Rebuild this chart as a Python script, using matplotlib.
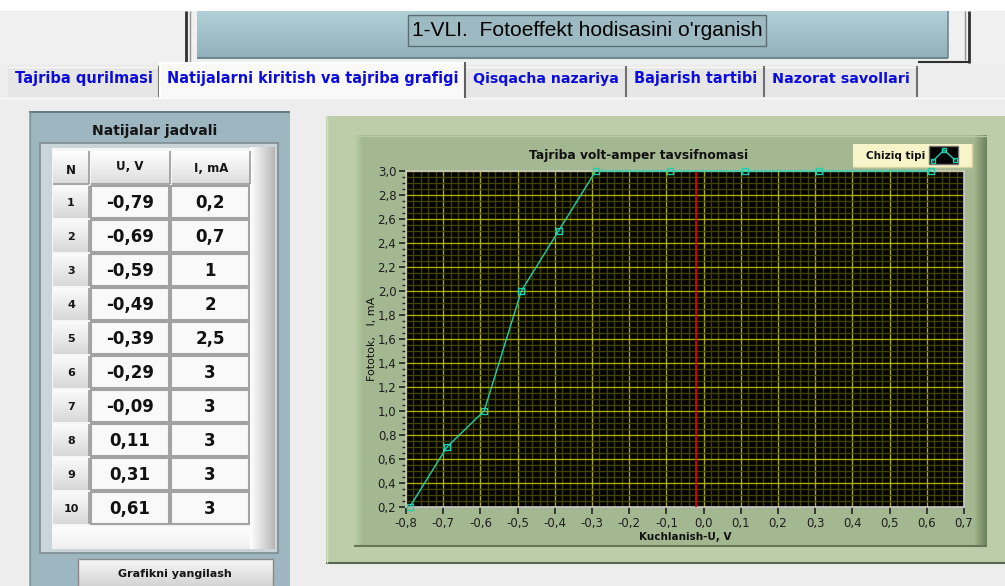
import matplotlib
matplotlib.use('Agg')
import matplotlib.pyplot as plt
import matplotlib.colors as mc
from matplotlib.patches import Rectangle
from matplotlib.ticker import MultipleLocator, FuncFormatter, FixedLocator
import numpy as np

# ---------------- data ----------------
U_values = [-0.79, -0.69, -0.59, -0.49, -0.39, -0.29, -0.09, 0.11, 0.31, 0.61]
I_values = [0.2, 0.7, 1, 2, 2.5, 3, 3, 3, 3, 3]
row_numbers = list(range(1, 11))
U_labels = ['-0,79', '-0,69', '-0,59', '-0,49', '-0,39', '-0,29', '-0,09', '0,11', '0,31', '0,61']
I_labels = ['0,2', '0,7', '1', '2', '2,5', '3', '3', '3', '3', '3']
x_ticks = [-0.8, -0.7, -0.6, -0.5, -0.4, -0.3, -0.2, -0.1, 0.0, 0.1, 0.2, 0.3, 0.4, 0.5, 0.6, 0.7]
y_ticks = [0.2, 0.4, 0.6, 0.8, 1.0, 1.2, 1.4, 1.6, 1.8, 2.0, 2.2, 2.4, 2.6, 2.8, 3.0]
cursor_u = -0.02
tab_names = ['Tajriba qurilmasi', 'Natijalarni kiritish va tajriba grafigi',
             'Qisqacha nazariya', 'Bajarish tartibi', 'Nazorat savollari']
page_title = "1-VLI.  Fotoeffekt hodisasini o'rganish"
chart_title = 'Tajriba volt-amper tavsifnomasi'
x_label = 'Kuchlanish-U, V'
y_label = 'Fototok,   I, mA'
table_title = 'Natijalar jadvali'
col_headers = ['N', 'U, V', 'I, mA']
legend_text = 'Chiziq tipi'
button_text = 'Grafikni yangilash'

W, H = 1005, 586
fig = plt.figure(figsize=(W / 100, H / 100), dpi=100)
bg = fig.add_axes([0, 0, 1, 1])
bg.axis('off')
renderer = fig.canvas.get_renderer()


def rect(x0, y0, x1, y1, fc, ec='none', lw=0, z=1):
    bg.add_patch(Rectangle((x0, y0), x1 - x0, y1 - y0, facecolor=fc,
                           edgecolor=ec, linewidth=lw, zorder=z))


def grad(x0, y0, x1, y1, c0, c1, horizontal=False, z=1):
    a = np.array(mc.to_rgb(c0))
    b = np.array(mc.to_rgb(c1))
    t = np.linspace(0, 1, 64)
    cols = a * (1 - t)[:, None] + b * t[:, None]
    img = cols[None, :, :] if horizontal else cols[:, None, :]
    bg.imshow(img, extent=(x0, x1, y1, y0), aspect='auto', zorder=z,
              interpolation='bilinear')


def line(xs, ys, c, lw=1, z=3):
    bg.plot(xs, ys, color=c, lw=lw, zorder=z, solid_capstyle='butt')


def fit_text(x, y, s, width, fs=10, **kw):
    t = bg.text(x, y, s, fontsize=fs, **kw)
    w = t.get_window_extent(renderer).width
    t.set_fontsize(fs * width / w)
    return t


# ---------------- background ----------------
rect(0, 0, W, H, '#ededed', z=0)
rect(0, 0, W, 11, '#ffffff', z=0.5)
rect(0, 11, W, 64, '#f0f0f0', z=0.5)

# top frame lines
line([186, 186], [11, 63], '#303030', lw=2)
line([190, 190], [11, 63], '#909090', lw=1)
line([969, 969], [11, 63], '#303030', lw=2)
line([965, 965], [11, 60], '#909090', lw=1)
line([918, 970], [62, 62], '#303030', lw=1.5)

# title panel
grad(197, 11, 948, 57, '#b2d0d8', '#93b1ba', z=1)
line([197, 948], [57.5, 57.5], '#6c8990', lw=1.5)
line([948, 948], [11, 58], '#6c8990', lw=1.2)
rect(408, 15, 766, 46, '#9db9c1', ec='#5a6e73', lw=1, z=2)
fit_text(587, 31, page_title, 350, fs=13, ha='center', va='center',
         family='Liberation Sans', color='black', zorder=3)

# tabs
tab_x = [(8, 159), (160, 465), (466, 626), (627, 764), (765, 917)]
for i, ((x0, x1), name) in enumerate(zip(tab_x, tab_names)):
    if i == 1:
        rect(x0, 62, x1, 99, '#f9f9f9', z=2)
        line([x0, x0], [62, 98], '#ffffff', lw=1.5, z=3)
        line([x0, x1], [62.5, 62.5], '#ffffff', lw=1.5, z=3)
        line([x1, x1], [62, 98], '#606060', lw=1.5, z=3)
    else:
        rect(x0, 66, x1, 97, '#e6e6e6', z=2)
        line([x0, x1], [66.5, 66.5], '#fafafa', lw=1, z=3)
        line([x1, x1], [66, 97], '#707070', lw=1.5, z=3)
    fit_text((x0 + x1) / 2, 79, name, (x1 - x0) - 14, fs=10, ha='center',
             va='center', weight='bold', color='#0b0be0', zorder=4)
line([0, W], [97.5, 97.5], '#fbfbfb', lw=1, z=1.5)

# ---------------- left panel (table) ----------------
rect(29, 111, 290, H, '#9db6c0', z=1)
line([29, 290], [111.5, 111.5], '#5c6e76', lw=1.2)
line([29.5, 29.5], [111, H], '#7f969f', lw=1)
fit_text(155, 131, table_title, 125, fs=10, ha='center', va='center',
         weight='bold', color='#151515', zorder=4)
rect(40, 143, 278, 553, '#c9d5d9', ec='#7d8c92', lw=1.2, z=2)
rect(52, 148, 275, 549, '#f6f6f6', z=2)
grad(250, 147, 275, 549, '#ffffff', '#b8b8b8', horizontal=True, z=2.2)
grad(52, 527, 250, 549, '#fdfdfd', '#f0f0f0', z=2.2)

# header cells
grad(53, 151, 89, 184, '#ffffff', '#dcdcdc', z=3)
grad(91, 151, 170, 184, '#ffffff', '#dcdcdc', z=3)
grad(172, 151, 250, 184, '#ffffff', '#dcdcdc', z=3)
for (x0, x1) in [(53, 89), (91, 170), (172, 250)]:
    line([x1, x1], [151, 184], '#9a9a9a', lw=1.2, z=3.5)
    line([x0, x1], [184, 184], '#9a9a9a', lw=1.2, z=3.5)
bg.text(71, 170, col_headers[0], fontsize=8.5, weight='bold', ha='center',
        va='center', color='#151515', zorder=4)
bg.text(130, 166, col_headers[1], fontsize=8.5, weight='bold', ha='center',
        va='center', color='#151515', zorder=4)
bg.text(211, 168, col_headers[2], fontsize=8.5, weight='bold', ha='center',
        va='center', color='#151515', zorder=4)

for i, (n, ul, il) in enumerate(zip(row_numbers, U_labels, I_labels)):
    y0 = 186 + 34 * i
    y1 = y0 + 32
    grad(53, y0, 89, y1, '#fbfbfb', '#d8d8d8', z=3)
    line([89, 89], [y0, y1], '#9a9a9a', lw=1.2, z=3.5)
    rect(91, y0, 169, y1, '#f9f9f9', ec='#a2a2a2', lw=1.5, z=3)
    rect(171, y0, 249, y1, '#f9f9f9', ec='#a2a2a2', lw=1.5, z=3)
    bg.text(71, (y0 + y1) / 2 + 1, str(n), fontsize=8, weight='bold',
            ha='center', va='center', color='#151515', zorder=4)
    bg.text(130, (y0 + y1) / 2 + 1, ul, fontsize=12, weight='bold',
            ha='center', va='center', color='#111111', zorder=4)
    bg.text(210, (y0 + y1) / 2 + 1, il, fontsize=12, weight='bold',
            ha='center', va='center', color='#111111', zorder=4)

# button
grad(78, 559, 273, H, '#f7f7f7', '#d4d4d4', z=3)
line([78, 273, 273], [559, 559, H], '#8a8a8a', lw=1, z=3.5)
line([78, 78], [559, H], '#8a8a8a', lw=1, z=3.5)
bg.text(175, 574, button_text, fontsize=8, weight='bold', ha='center',
        va='center', color='#151515', zorder=4)

# ---------------- chart panel ----------------
rect(326, 116, W, 563, '#bdcda9', z=1)
line([326, W], [563, 563], '#56664c', lw=1.5)
line([326.5, 326.5], [116, 563], '#d3dec5', lw=1)
rect(354, 135, 987, 546, '#a3b890', z=1.5)
grad(354, 135, 363, 546, '#bdd0aa', '#a3b890', horizontal=True, z=1.6)
grad(974, 135, 987, 546, '#a3b890', '#6b7f5f', horizontal=True, z=1.6)
line([354, 987], [546, 546], '#65765a', lw=1.5, z=1.7)
line([354, 987], [135.5, 135.5], '#b6c8a4', lw=1, z=1.7)

fit_text(639, 155, chart_title, 218, fs=9, ha='center', va='center',
         weight='bold', color='#111111', zorder=4)
bg.text(685, 537, x_label, fontsize=7.5, weight='bold', ha='center',
        va='center', color='#111111', zorder=4)
bg.text(372, 339, y_label, fontsize=8, rotation=90, ha='center',
        va='center', color='#111111', zorder=4)

# legend
rect(853, 144, 972, 167, '#f7f4c9', z=3)
line([853, 972], [167, 167], '#d8d3a0', lw=1, z=3.2)
line([972, 972], [144, 167], '#d8d3a0', lw=1, z=3.2)
bg.text(896, 156, legend_text, fontsize=7.5, weight='bold', ha='center',
        va='center', color='#111111', zorder=4)
rect(929, 146, 958, 164, '#000000', ec='#707070', lw=1, z=4)
bg.plot([933, 944, 955], [161, 150, 160], color='#1fd0b0', lw=1,
        marker='s', ms=3.5, mfc='none', mec='#1fd0b0', zorder=5)

bg.set_xlim(0, W)
bg.set_ylim(H, 0)

# ---------------- plot ----------------
px0, px1, py0, py1 = 406, 964, 171, 507
ax = fig.add_axes([px0 / W, (H - py1) / H, (px1 - px0) / W, (py1 - py0) / H])
ax.set_facecolor('black')
ax.set_xlim(x_ticks[0], x_ticks[-1])
ax.set_ylim(y_ticks[0], y_ticks[-1])
ax.xaxis.set_major_locator(FixedLocator(x_ticks))
ax.yaxis.set_major_locator(FixedLocator(y_ticks))
ax.xaxis.set_minor_locator(MultipleLocator(0.02))
ax.yaxis.set_minor_locator(MultipleLocator(0.05))


def comma(v, p):
    v = round(v, 1) + 0.0
    return f'{v:.1f}'.replace('.', ',')


ax.xaxis.set_major_formatter(FuncFormatter(comma))
ax.yaxis.set_major_formatter(FuncFormatter(comma))
ax.grid(which='minor', color='#434300', lw=1)
ax.grid(which='major', color='#acac00', lw=1)
ax.set_axisbelow(True)
ax.tick_params(axis='x', which='minor', length=0)
ax.tick_params(axis='both', which='major', length=5, width=1.2, color='#222222',
               labelsize=8.5, labelcolor='#1e1e1e', pad=2)
ax.tick_params(axis='y', which='minor', length=3, width=1, color='#222222')
for s in ax.spines.values():
    s.set_color('#c8c8c8')
    s.set_linewidth(1.2)

ax.axvline(cursor_u, color='#d00000', lw=1.4, zorder=3)
ax.plot(U_values, I_values, color='#1fd0b0', lw=1, marker='s', ms=4,
        mfc='none', mec='#1fd0b0', mew=1, clip_on=False, zorder=5)

fig.savefig('out.png', dpi=100)
